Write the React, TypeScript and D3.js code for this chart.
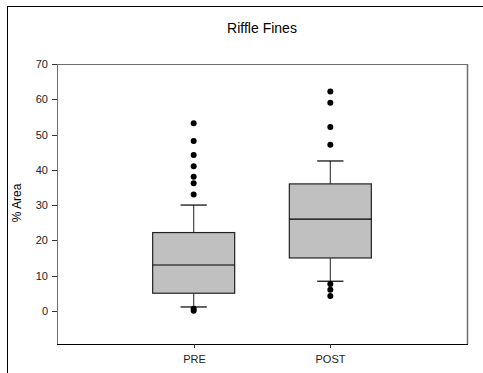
import React from "react";
import * as d3 from "d3";

// Box summaries per sampling period (% area of riffle fines)
const categories = ["PRE", "POST"];
const q1 = [5, 15];
const medians = [13, 26];
const q3 = [22.2, 36];
const whiskerLow = [1.1, 8.4];
const whiskerHigh = [30, 42.5];
const outliersPre = [53.2, 48.2, 44.2, 41, 38, 36.2, 33, 0.6, 0];
const outliersPost = [62.2, 59, 52.1, 47.1, 7.6, 6, 4.2];
const outliers = [outliersPre, outliersPost];
const yTicks = [0, 10, 20, 30, 40, 50, 60, 70];

const W = 483;
const H = 373;
const plot = { left: 57, right: 467, top: 64, bottom: 344 };
const font = "'Liberation Sans', Arial, sans-serif";

export default function App() {
  const y = d3.scaleLinear().domain([-9.4, 70]).range([plot.bottom, plot.top]);
  const x = d3.scalePoint<string>().domain(categories).range([plot.left, plot.right]).padding(1);
  const boxW = x.step() * 0.6;

  return (
    <svg
      width={W}
      height={H}
      style={{ position: "absolute", left: 0, top: 0, background: "#fff" }}
      fontFamily={font}
    >
      <rect x={7.5} y={6.5} width={W} height={H} fill="#fff" stroke="#000" strokeWidth={1} />
      <text x={262} y={33} textAnchor="middle" fontSize={14} fill="#000">
        Riffle Fines
      </text>

      {/* frame */}
      <line x1={plot.left} x2={plot.right} y1={plot.top + 0.5} y2={plot.top + 0.5} stroke="#6e6e6e" />
      <line x1={plot.left + 0.5} x2={plot.left + 0.5} y1={plot.top} y2={plot.bottom} stroke="#6e6e6e" />
      <line x1={plot.right + 0.5} x2={plot.right + 0.5} y1={plot.top} y2={plot.bottom} stroke="#6e6e6e" strokeWidth={1.5} />
      <line x1={plot.left} x2={plot.right + 1} y1={plot.bottom + 0.5} y2={plot.bottom + 0.5} stroke="#000" />

      {/* y axis */}
      {yTicks.map((t) => (
        <g key={t} transform={`translate(0,${Math.round(y(t)) + 0.5})`}>
          <line x1={plot.left - 5} x2={plot.left} stroke="#333" />
          <text x={plot.left - 9} dy="0.35em" textAnchor="end" fontSize={11} fill="#222">
            {t}
          </text>
        </g>
      ))}
      <text
        transform={`translate(21,${(plot.top + plot.bottom) / 2 - 1}) rotate(-90)`}
        textAnchor="middle"
        fontSize={12}
        fill="#000"
      >
        % Area
      </text>

      {/* x axis */}
      {categories.map((c) => (
        <g key={c} transform={`translate(${Math.round(x(c)!) + 0.5},0)`}>
          <line y1={plot.bottom} y2={plot.bottom + 4} stroke="#333" />
          <text y={plot.bottom + 19} textAnchor="middle" fontSize={11} fill="#222">
            {c}
          </text>
        </g>
      ))}

      {/* boxes */}
      {categories.map((c, i) => {
        const cx = x(c)!;
        const capW = boxW * 0.32;
        return (
          <g key={c}>
            <line x1={cx} x2={cx} y1={y(whiskerHigh[i])} y2={y(q3[i])} stroke="#444" strokeWidth={1.2} />
            <line x1={cx} x2={cx} y1={y(q1[i])} y2={y(whiskerLow[i])} stroke="#444" strokeWidth={1.2} />
            <line x1={cx - capW / 2} x2={cx + capW / 2} y1={y(whiskerHigh[i])} y2={y(whiskerHigh[i])} stroke="#000" strokeWidth={1.2} />
            <line x1={cx - capW / 2} x2={cx + capW / 2} y1={y(whiskerLow[i])} y2={y(whiskerLow[i])} stroke="#000" strokeWidth={1.2} />
            <rect
              x={cx - boxW / 2}
              y={y(q3[i])}
              width={boxW}
              height={y(q1[i]) - y(q3[i])}
              fill="#c0c0c0"
              stroke="#222"
              strokeWidth={1.2}
            />
            <line x1={cx - boxW / 2} x2={cx + boxW / 2} y1={y(medians[i])} y2={y(medians[i])} stroke="#000" strokeWidth={1.2} />
            {outliers[i].map((v, k) => (
              <circle key={k} cx={cx} cy={y(v)} r={3} fill="#000" />
            ))}
          </g>
        );
      })}
    </svg>
  );
}
